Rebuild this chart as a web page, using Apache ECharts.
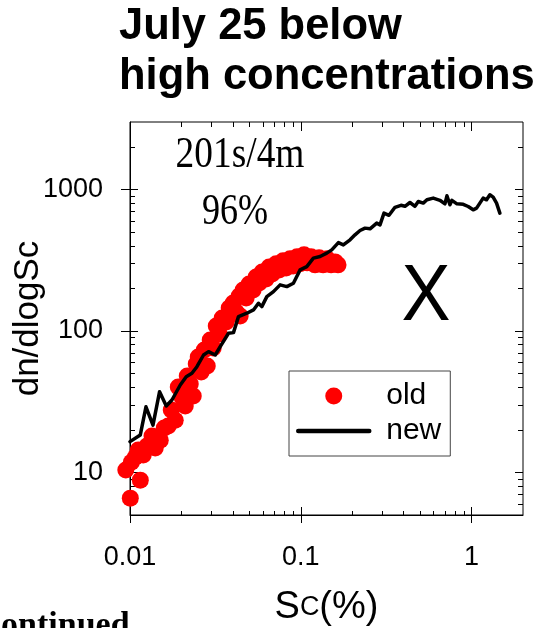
<!DOCTYPE html>
<html>
<head>
<meta charset="utf-8">
<title>July 25 below high concentrations</title>
<script src="https://cdn.jsdelivr.net/npm/echarts@6/dist/echarts.min.js"></script>
<style>
  html, body { margin: 0; padding: 0; background: #ffffff; }
  #chart { width: 541px; height: 628px; }
</style>
</head>
<body>
<div id="chart"></div>
<script>
// Supersaturation (%) and dn/dlogSc of the old retrieval (scatter)
const SC_OLD = [
  0.01004, 0.00945, 0.01149, 0.01074, 0.01018, 0.01118, 0.01196, 0.01257, 0.01345, 0.01406,
  0.01504, 0.01587, 0.01675, 0.01744, 0.0184, 0.01917, 0.02022, 0.02106, 0.02164, 0.02253,
  0.02346, 0.02442, 0.02509, 0.02612, 0.02721, 0.02833, 0.02949, 0.0307, 0.03198, 0.03329,
  0.03466, 0.03658, 0.03808, 0.04019, 0.04184, 0.04357, 0.04597, 0.04787, 0.04985, 0.0526,
  0.05478, 0.05703, 0.05938, 0.06266, 0.06525, 0.06794, 0.07169, 0.07467, 0.0788, 0.08204,
  0.08657, 0.09016, 0.09515, 0.09906, 0.1045, 0.1088, 0.1148, 0.1212, 0.1279, 0.135,
  0.1425, 0.1504, 0.1587, 0.1652, 0.04416
];
const DN_OLD = [
  6.58, 10.4, 8.82, 12.8, 11.8, 14.4, 13.3, 15.4, 18.1, 14.9,
  16.9, 20.6, 21.3, 27.6, 23.4, 40.2, 33.6, 29.5, 48.0, 42.2,
  34.7, 58.4, 65.5, 51.3, 73.4, 56.5, 86.4, 75.8, 108.5, 95.2,
  123.6, 115.8, 145.5, 157.8, 136.3, 176.9, 195.1, 171.2, 215.1, 195.1,
  241.1, 218.6, 261.5, 233.3, 283.7, 253.2, 298.1, 270.2, 312.9, 279.2,
  323.3, 288.4, 334.0, 298.1, 345.1, 302.9, 334.0, 293.2, 328.6, 293.2,
  323.3, 293.2, 307.8, 293.2, 127.7
];

// Supersaturation (%) and dn/dlogSc of the new retrieval (line)
const SC_NEW = [
  0.0100, 0.01027, 0.01149, 0.0124, 0.01363, 0.0149, 0.01631, 0.0176, 0.01969, 0.02134,
  0.02304, 0.02465, 0.02695, 0.02882, 0.03154, 0.03374, 0.03773, 0.04035, 0.04316, 0.04834,
  0.05283, 0.05649, 0.05914, 0.06327, 0.06917, 0.07567, 0.08284, 0.0905, 0.09906, 0.1084,
  0.1185, 0.1297, 0.1419, 0.1518, 0.166, 0.1775, 0.1943, 0.2077, 0.2223, 0.2377,
  0.2543, 0.2783, 0.2909, 0.307, 0.3284, 0.356, 0.3859, 0.4073, 0.4357, 0.4661,
  0.4873, 0.5212, 0.5477, 0.5964, 0.6525, 0.6981, 0.7172, 0.7467, 0.7672, 0.8204,
  0.8933, 0.9552, 1.0219, 1.0696, 1.118, 1.1689, 1.2238, 1.2794, 1.3375, 1.4002,
  1.464
];
const DN_NEW = [
  16.5, 16.0, 18.4, 29.1, 21.6, 37.2, 29.5, 32.5, 41.5, 47.5,
  50.2, 55.9, 67.6, 71.4, 67.6, 77.4, 96.3, 97.3, 126.3, 133.5,
  140.8, 157.0, 148.6, 174.9, 189.7, 211.7, 205.9, 217.6, 270.2, 285.1,
  327.0, 335.7, 354.8, 374.3, 421.6, 406.1, 440.6, 478.0, 512.7, 533.2,
  527.2, 578.3, 562.5, 680.8, 656.8, 748.2, 773.0, 760.5, 809.1, 760.5,
  822.4, 801.3, 845.4, 869.1, 838.6, 792.1, 902.4, 779.3, 838.6, 792.1,
  785.8, 758.1, 718.3, 738.6, 801.3, 869.1, 845.4, 917.1, 883.5, 801.3,
  680.8
];

// Axis ranges and tick positions (log scales)
const X_RANGE = [0.01, 2];
const Y_RANGE = [5, 3000];
const X_MAJOR = [0.01, 0.1, 1];
const X_MINOR = [0.02, 0.03, 0.04, 0.05, 0.06, 0.07, 0.08, 0.09,
                 0.2, 0.3, 0.4, 0.5, 0.6, 0.7, 0.8, 0.9];
const Y_MAJOR = [10, 100, 1000];
const Y_MINOR = [6, 7, 8, 9, 20, 30, 40, 50, 60, 70, 80, 90,
                 200, 300, 400, 500, 600, 700, 800, 900, 2000];

const SANS = '"Liberation Sans", Arial, Helvetica, sans-serif';
const SERIF = '"Liberation Serif", "Times New Roman", serif';

// A bare log axis that only draws a set of ticks on one side of the frame
function tickAxis(range, position, values, length, inside) {
  return {
    type: 'log', logBase: 10, min: range[0], max: range[1], position: position,
    gridIndex: 0, splitLine: { show: false },
    axisLine: { show: false, onZero: false },
    axisLabel: { show: false },
    axisTick: { show: true, inside: inside, length: length, customValues: values,
                lineStyle: { color: '#000', width: 1 } }
  };
}

const chart = echarts.init(document.getElementById('chart'), null, { renderer: 'canvas' });

const option = {
  animation: false,
  backgroundColor: '#ffffff',
  title: {
    text: 'July 25 below\nhigh concentrations',
    left: 119, top: 2, padding: 0,
    textStyle: { fontFamily: SANS, fontSize: 43.5, fontWeight: 'bold', color: '#000', lineHeight: 50 }
  },
  grid: {
    left: 130, top: 122, width: 393, height: 393,
    outerBoundsMode: 'none', containLabel: false,
    show: true, borderColor: '#000', borderWidth: 1, backgroundColor: 'transparent'
  },
  legend: {
    orient: 'vertical', left: 289, top: 371,
    padding: [10, 9, 10, 7],
    borderColor: '#444', borderWidth: 1,
    itemWidth: 71, itemHeight: 17, itemGap: 5,
    textStyle: { fontFamily: SANS, fontSize: 30, color: '#000', padding: [0, 0, 0, 12] },
    data: [
      { name: 'old', icon: 'circle' },
      { name: 'new', itemStyle: { opacity: 0 }, lineStyle: { width: 4.5, cap: 'round' } }
    ]
  },
  xAxis: [
    {
      type: 'log', logBase: 10, min: X_RANGE[0], max: X_RANGE[1], position: 'bottom', gridIndex: 0,
      splitLine: { show: false },
      axisLine: { show: true, onZero: false, lineStyle: { color: '#000', width: 1 } },
      axisTick: { show: true, inside: false, length: 8, customValues: X_MAJOR,
                  lineStyle: { color: '#000', width: 1 } },
      axisLabel: { show: true, customValues: X_MAJOR, margin: 29,
                   fontFamily: SANS, fontSize: 27, color: '#000',
                   formatter: v => String(v) },
      name: '{s|S}{c|C}{s|(%)}',
      nameLocation: 'middle', nameGap: 74, nameMoveOverlap: false,
      nameTextStyle: {
        rich: {
          s: { fontFamily: SANS, fontSize: 38, color: '#000' },
          c: { fontFamily: SANS, fontSize: 27, color: '#000' }
        }
      }
    },
    tickAxis(X_RANGE, 'bottom', X_MAJOR, 8, true),
    tickAxis(X_RANGE, 'bottom', X_MINOR, 4, true),
    tickAxis(X_RANGE, 'top', X_MAJOR, 9, true),
    tickAxis(X_RANGE, 'top', X_MINOR, 5, true)
  ],
  yAxis: [
    {
      type: 'log', logBase: 10, min: Y_RANGE[0], max: Y_RANGE[1], position: 'left', gridIndex: 0,
      splitLine: { show: false },
      axisLine: { show: true, onZero: false, lineStyle: { color: '#000', width: 1 } },
      axisTick: { show: true, inside: false, length: 9, customValues: Y_MAJOR,
                  lineStyle: { color: '#000', width: 1 } },
      axisLabel: { show: true, customValues: Y_MAJOR, margin: 27,
                   fontFamily: SANS, fontSize: 27, color: '#000',
                   formatter: v => String(v) },
      name: 'dn/dlogSc',
      nameLocation: 'middle', nameGap: 84, nameMoveOverlap: false,
      nameTextStyle: { fontFamily: SANS, fontSize: 35, color: '#000' }
    },
    tickAxis(Y_RANGE, 'left', Y_MAJOR, 8, true),
    tickAxis(Y_RANGE, 'left', Y_MINOR, 5, true),
    tickAxis(Y_RANGE, 'right', Y_MAJOR, 8, true),
    tickAxis(Y_RANGE, 'right', Y_MINOR, 5, true)
  ],
  series: [
    {
      name: 'old', type: 'scatter', xAxisIndex: 0, yAxisIndex: 0,
      data: SC_OLD.map((s, i) => [s, DN_OLD[i]]),
      symbol: 'circle', symbolSize: 17, clip: false, z: 2,
      itemStyle: { color: '#ff0000', opacity: 1 },
      emphasis: { disabled: true }
    },
    {
      name: 'new', type: 'line', xAxisIndex: 0, yAxisIndex: 0,
      data: SC_NEW.map((s, i) => [s, DN_NEW[i]]),
      symbol: 'none', showSymbol: false, z: 3,
      lineStyle: { color: '#000', width: 3.5, join: 'round', cap: 'round' },
      itemStyle: { color: '#000' },
      emphasis: { disabled: true }
    }
  ],
  graphic: [
    {
      type: 'text', x: 240, y: 155, scaleX: 0.85,
      style: { text: '201s/4m', font: '44px ' + SERIF, fill: '#000',
               align: 'center', verticalAlign: 'middle' }
    },
    {
      type: 'text', x: 235, y: 212, scaleX: 0.82,
      style: { text: '96%', font: '44px ' + SERIF, fill: '#000',
               align: 'center', verticalAlign: 'middle' }
    },
    {
      type: 'text', x: 426, y: 298, scaleX: 0.93,
      style: { text: 'X', font: '79px ' + SANS, fill: '#000',
               align: 'center', verticalAlign: 'middle' }
    },
    {
      type: 'text', x: -14, y: 626,
      style: { text: 'continued', font: 'bold 34px ' + SERIF, fill: '#000',
               align: 'left', verticalAlign: 'middle' }
    }
  ]
};

chart.setOption(option);
</script>
</body>
</html>
